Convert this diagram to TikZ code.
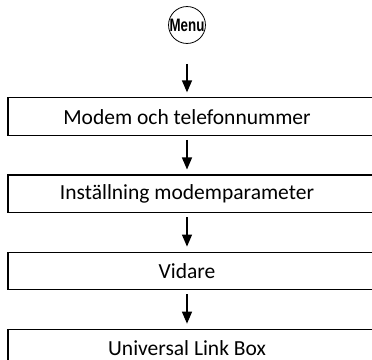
\documentclass[tikz,border=0pt]{standalone}
\usepackage{fontspec}
\setmainfont{Carlito}
\newfontfamily\menufont[FakeStretch=0.74]{Liberation Sans}
\usetikzlibrary{arrows.meta,positioning}

\begin{document}
\begin{tikzpicture}[
  x=1pt,y=1pt,
  font=\fontsize{21.5}{24}\selectfont,
  stepbox/.style={draw,line width=1.1pt,minimum width=368pt,minimum height=37.5pt,inner sep=0pt,
    execute at begin node=\hspace*{-10pt}},
  menubtn/.style={draw,circle,line width=0.8pt,minimum size=35pt,inner sep=0pt,font=\menufont\bfseries\fontsize{18}{20}\selectfont},
  arr/.style={-{Triangle[length=12pt,width=10pt]},line width=1.3pt,shorten <=4pt,shorten >=5pt}]
  \useasboundingbox (0,0) rectangle (372,-359);
  \clip (0,0) rectangle (372,-359);
  \node[menubtn] (menu) at (187,-25) {Menu};
  \node[stepbox,below=53.5pt of menu,xshift=5pt] (modem) {Modem och telefonnummer};
  \node[stepbox,below=38.5pt of modem] (inst) {Inställning modemparameter};
  \node[stepbox,below=38.5pt of inst] (vidare) {Vidare};
  \node[stepbox,below=38.5pt of vidare] (ulb) {Universal Link Box};
  \draw[arr,shorten <=20pt] (menu) -- (modem.north -| menu);
  \draw[arr] (modem.south -| menu) -- (inst.north -| menu);
  \draw[arr] (inst.south -| menu) -- (vidare.north -| menu);
  \draw[arr] (vidare.south -| menu) -- (ulb.north -| menu);
\end{tikzpicture}
\end{document}
